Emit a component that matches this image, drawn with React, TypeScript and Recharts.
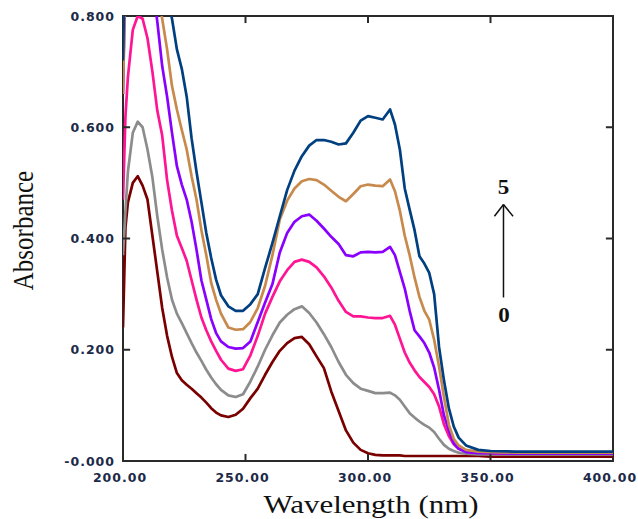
import {
  LineChart,
  Line,
  XAxis,
  YAxis,
  ReferenceLine,
  ReferenceDot,
  ReferenceArea,
} from "recharts";

const wavelengths = [
  200, 201, 202, 204, 206, 208, 210, 212, 214, 216, 218, 220, 222, 224, 226, 228, 230, 232, 234, 236,
  238, 240, 243, 246, 249, 252, 255, 258, 261, 264, 267, 270, 273, 276, 279, 282, 285, 288, 291, 294,
  297, 300, 303, 306, 309, 311, 313, 315, 317, 319, 321, 323, 325, 327, 329, 331, 333, 335, 337, 340,
  345, 350, 360, 370, 380, 390, 400,
];

// absorbance, spectrum 0 (lowest) .. 5 (highest)
const abs0 = [
  0.24, 0.42, 0.465, 0.5, 0.512, 0.495, 0.47, 0.405, 0.34, 0.275, 0.225, 0.187, 0.158, 0.145, 0.137, 0.13, 0.122, 0.114, 0.105, 0.095,
  0.087, 0.082, 0.079, 0.083, 0.094, 0.113, 0.13, 0.155, 0.178, 0.198, 0.212, 0.221, 0.223, 0.21, 0.188, 0.167, 0.125, 0.09, 0.055, 0.033,
  0.02, 0.014, 0.011, 0.01, 0.01, 0.01, 0.01, 0.009, 0.009, 0.009, 0.009, 0.009, 0.009, 0.009, 0.009, 0.009, 0.009, 0.009, 0.009, 0.009,
  0.009, 0.008, 0.008, 0.008, 0.008, 0.008, 0.008,
];
const abs1 = [
  0.37, 0.45, 0.52, 0.59, 0.61, 0.6, 0.56, 0.51, 0.44, 0.38, 0.33, 0.29, 0.265, 0.248, 0.23, 0.212, 0.195, 0.18, 0.164, 0.15,
  0.138, 0.128, 0.118, 0.115, 0.12, 0.143, 0.17, 0.2, 0.226, 0.249, 0.263, 0.273, 0.278, 0.266, 0.249, 0.228, 0.205, 0.178, 0.155, 0.14,
  0.13, 0.126, 0.122, 0.122, 0.123, 0.118, 0.11, 0.098, 0.086, 0.078, 0.071, 0.065, 0.06, 0.052, 0.04, 0.029, 0.022, 0.018, 0.015, 0.013,
  0.012, 0.012, 0.012, 0.012, 0.012, 0.012, 0.012,
];
const abs2 = [
  0.47, 0.62, 0.69, 0.775, 0.8, 0.795, 0.76, 0.7, 0.63, 0.585, 0.505, 0.45, 0.405, 0.383, 0.36, 0.325, 0.29, 0.258, 0.235, 0.215,
  0.198, 0.182, 0.166, 0.162, 0.165, 0.19, 0.225, 0.265, 0.295, 0.323, 0.343, 0.358, 0.362, 0.358, 0.348, 0.332, 0.312, 0.288, 0.268, 0.26,
  0.26, 0.258, 0.257, 0.257, 0.261, 0.245, 0.22, 0.195, 0.177, 0.163, 0.151, 0.142, 0.133, 0.12, 0.098, 0.066, 0.045, 0.03, 0.022, 0.018,
  0.015, 0.014, 0.013, 0.013, 0.013, 0.013, 0.013,
];
const abs3 = [
  0.66, 0.88, 0.95, 1.0, 1.0, 0.97, 0.92, 0.86, 0.79, 0.71, 0.655, 0.59, 0.53, 0.497, 0.47, 0.43, 0.38, 0.325, 0.29, 0.255,
  0.23, 0.215, 0.205, 0.202, 0.203, 0.215, 0.25, 0.285, 0.318, 0.375, 0.41, 0.43, 0.44, 0.443, 0.432, 0.418, 0.403, 0.39, 0.37, 0.368,
  0.375, 0.376, 0.375, 0.376, 0.385, 0.37, 0.34, 0.31, 0.27, 0.235, 0.224, 0.212, 0.195, 0.168, 0.128, 0.082, 0.055, 0.032, 0.022, 0.016,
  0.014, 0.014, 0.013, 0.013, 0.013, 0.013, 0.013,
];
const abs4 = [
  0.66, 0.9, 1.0, 1.05, 1.05, 1.0, 0.95, 0.9, 0.845, 0.795, 0.74, 0.674, 0.632, 0.595, 0.56, 0.512, 0.47, 0.415, 0.37, 0.32,
  0.29, 0.265, 0.24, 0.236, 0.237, 0.25, 0.275, 0.315, 0.37, 0.434, 0.468, 0.49, 0.503, 0.507, 0.505, 0.497, 0.486, 0.475, 0.467, 0.48,
  0.494, 0.497, 0.495, 0.494, 0.506, 0.485, 0.45, 0.405, 0.37, 0.33, 0.295, 0.27, 0.254, 0.218, 0.17, 0.115, 0.065, 0.04, 0.028, 0.02,
  0.017, 0.016, 0.015, 0.015, 0.015, 0.015, 0.015,
];
const abs5 = [
  0.72, 0.95, 1.05, 1.1, 1.1, 1.08, 1.03, 0.98, 0.93, 0.88, 0.835, 0.795, 0.74, 0.705, 0.655, 0.58, 0.52, 0.465, 0.41, 0.365,
  0.326, 0.298, 0.278, 0.27, 0.27, 0.282, 0.3, 0.347, 0.392, 0.44, 0.487, 0.522, 0.548, 0.567, 0.577, 0.577, 0.574, 0.569, 0.571, 0.59,
  0.612, 0.62, 0.617, 0.614, 0.632, 0.605, 0.56, 0.49, 0.452, 0.415, 0.368, 0.355, 0.338, 0.3, 0.205, 0.145, 0.095, 0.062, 0.042, 0.028,
  0.02, 0.018, 0.017, 0.017, 0.017, 0.017, 0.017,
];

const seriesKeys = ["s0", "s1", "s2", "s3", "s4", "s5"];
const seriesColors = ["#7a0000", "#8c8c8c", "#ff1493", "#8a00ff", "#c88a4c", "#003f80"];
const seriesValues = [abs0, abs1, abs2, abs3, abs4, abs5];

const xTicks = [200, 250, 300, 350, 400];
const xTickLabels = ["200.00", "250.00", "300.00", "350.00", "400.00"];
const yTicks = [0, 0.2, 0.4, 0.6, 0.8];
const yTickLabels = ["-0.000", "0.200", "0.400", "0.600", "0.800"];
const innerXTicks = [250, 300, 350];
const innerYTicks = [0.2, 0.4, 0.6];

const data = wavelengths.map((w, i) => {
  const row: Record<string, number> = { w };
  seriesKeys.forEach((k, j) => {
    row[k] = seriesValues[j][i];
  });
  return row;
});

const AXIS = "#2a2a2a";
const TICK_TEXT = "#1c2a48";
const tickFont = "'DejaVu Sans', sans-serif";
const serif = "'Liberation Serif', 'Times New Roman', serif";
// tick mark length in data units (about 7px)
const TICK_DX = 2.9;
const TICK_DY = 0.0127;

function BottomTick(props: any) {
  const { x, y, payload } = props;
  const idx = xTicks.indexOf(payload.value);
  return (
    <text
      x={x - 3}
      y={y + 21}
      textAnchor="middle"
      fill={TICK_TEXT}
      fontFamily={tickFont}
      fontWeight="bold"
      fontSize={12.5}
      letterSpacing={1}
    >
      {xTickLabels[idx]}
    </text>
  );
}

function LeftTick(props: any) {
  const { x, y, payload } = props;
  const idx = yTicks.indexOf(payload.value);
  return (
    <text
      x={x - 8}
      y={y + 4.5}
      textAnchor="end"
      fill={TICK_TEXT}
      fontFamily={tickFont}
      fontWeight="bold"
      fontSize={12.5}
      letterSpacing={1}
    >
      {yTickLabels[idx]}
    </text>
  );
}

function NumberLabel({ text }: { text: string }) {
  return (props: any) => {
    const vb = props.viewBox;
    return (
      <text
        x={vb.x}
        y={vb.y + 7}
        textAnchor="middle"
        fill="#111"
        fontFamily={serif}
        fontWeight="bold"
        fontSize={20}
        transform={`translate(${vb.x} 0) scale(1.15 1) translate(${-vb.x} 0)`}
      >
        {text}
      </text>
    );
  };
}

export default function App() {
  return (
    <div style={{ position: "absolute", left: 0, top: 0, background: "#fff" }}>
      <LineChart
        width={638}
        height={519}
        data={data}
        margin={{ top: 16, right: 25, bottom: 28, left: 53 }}
      >
        <XAxis
          dataKey="w"
          type="number"
          domain={[200, 400]}
          ticks={xTicks}
          allowDataOverflow
          tickSize={0}
          tickMargin={0}
          height={30}
          axisLine={false}
          tickLine={false}
          tick={BottomTick}
          interval={0}
          label={{
            content: (p: any) => {
              const vb = p.viewBox;
              const cx = vb.x + vb.width / 2 + 3;
              return (
                <text
                  transform={`translate(${cx} ${vb.y + 52}) scale(1.24 1)`}
                  textAnchor="middle"
                  fill="#111"
                  fontFamily={serif}
                  fontSize={25}
                >
                  Wavelength (nm)
                </text>
              );
            },
          }}
        />
        <YAxis
          type="number"
          domain={[0, 0.8]}
          ticks={yTicks}
          allowDataOverflow
          tickSize={0}
          tickMargin={0}
          width={70}
          axisLine={false}
          tickLine={false}
          tick={LeftTick}
          interval={0}
          label={{
            content: (p: any) => {
              const vb = p.viewBox;
              const cy = vb.y + vb.height / 2 - 8;
              return (
                <text
                  transform={`translate(${vb.x - 20} ${cy}) scale(1.22 1) rotate(-90)`}
                  textAnchor="middle"
                  fill="#111"
                  fontFamily={serif}
                  fontSize={25}
                >
                  Absorbance
                </text>
              );
            },
          }}
        />
        {seriesKeys.map((k, j) => (
          <Line
            key={k}
            dataKey={k}
            type="linear"
            stroke={seriesColors[j]}
            strokeWidth={2.7}
            strokeLinejoin="round"
            dot={false}
            activeDot={false}
            isAnimationActive={false}
          />
        ))}
        <ReferenceArea
          x1={200}
          x2={400}
          y1={0}
          y2={0.8}
          fill="none"
          fillOpacity={0}
          stroke={AXIS}
          strokeWidth={2}
          ifOverflow="visible"
        />
        {innerXTicks.map((t) => (
          <ReferenceLine
            key={`b${t}`}
            segment={[
              { x: t, y: 0 },
              { x: t, y: TICK_DY },
            ]}
            stroke={AXIS}
            strokeWidth={2}
            ifOverflow="visible"
          />
        ))}
        {innerXTicks.map((t) => (
          <ReferenceLine
            key={`t${t}`}
            segment={[
              { x: t, y: 0.8 },
              { x: t, y: 0.8 - TICK_DY },
            ]}
            stroke={AXIS}
            strokeWidth={2}
            ifOverflow="visible"
          />
        ))}
        {innerYTicks.map((t) => (
          <ReferenceLine
            key={`l${t}`}
            segment={[
              { x: 200, y: t },
              { x: 200 + TICK_DX, y: t },
            ]}
            stroke={AXIS}
            strokeWidth={2}
            ifOverflow="visible"
          />
        ))}
        {innerYTicks.map((t) => (
          <ReferenceLine
            key={`r${t}`}
            segment={[
              { x: 400, y: t },
              { x: 400 - TICK_DX, y: t },
            ]}
            stroke={AXIS}
            strokeWidth={2}
            ifOverflow="visible"
          />
        ))}
        <ReferenceLine
          segment={[
            { x: 355.3, y: 0.294 },
            { x: 355.3, y: 0.461 },
          ]}
          stroke="#111"
          strokeWidth={1.5}
        />
        <ReferenceLine
          segment={[
            { x: 351.6, y: 0.44 },
            { x: 355.3, y: 0.461 },
          ]}
          stroke="#111"
          strokeWidth={1.5}
        />
        <ReferenceLine
          segment={[
            { x: 359.2, y: 0.44 },
            { x: 355.3, y: 0.461 },
          ]}
          stroke="#111"
          strokeWidth={1.5}
        />
        <ReferenceDot x={355.3} y={0.492} r={0} stroke="none" label={{ content: NumberLabel({ text: "5" }) }} />
        <ReferenceDot x={355.5} y={0.263} r={0} stroke="none" label={{ content: NumberLabel({ text: "0" }) }} />
      </LineChart>
    </div>
  );
}
